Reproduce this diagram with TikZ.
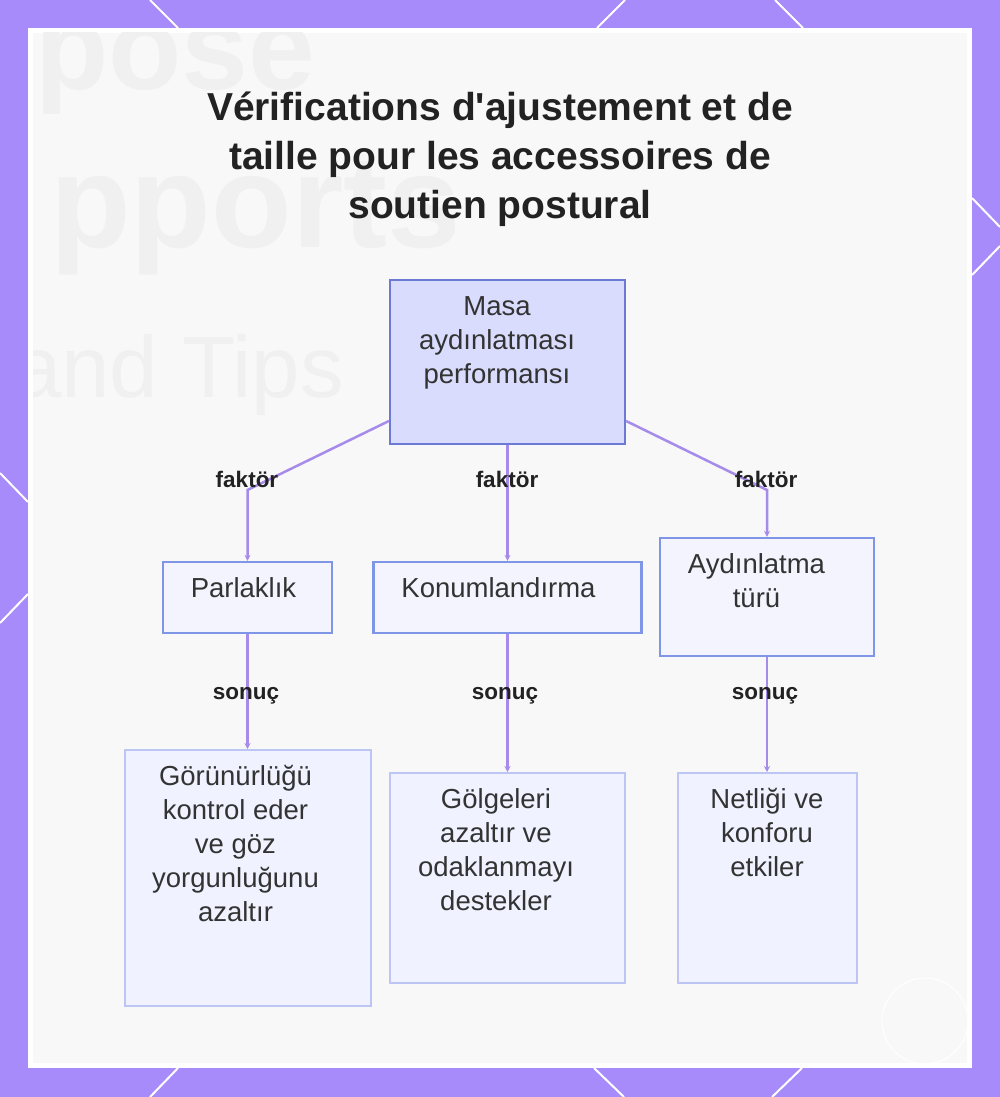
\documentclass[tikz,border=0pt]{standalone}
\usepackage{fontspec}
\setmainfont{Liberation Sans}
\newfontfamily\plainfont{Liberation Sans}
\usetikzlibrary{arrows.meta}
\definecolor{framepurple}{HTML}{A78BFA}
\definecolor{panelgray}{HTML}{F8F8F8}
\definecolor{ghostgray}{HTML}{F0F0F0}
\definecolor{rootfill}{HTML}{D9DCFC}
\definecolor{rootline}{HTML}{6B7AD4}
\definecolor{midfill}{HTML}{F3F4FE}
\definecolor{midline}{HTML}{7F95E6}
\definecolor{leaffill}{HTML}{F0F3FF}
\definecolor{leafline}{HTML}{BDC5F5}
\definecolor{connline}{HTML}{A68BEB}
\definecolor{txt}{HTML}{333333}
\definecolor{titletxt}{HTML}{222222}
% \boxtext{width}{height}{left shift of centre}{lines}
\newcommand{\boxtext}[4]{\parbox[c][#2pt][t]{#1pt}{\fontsize{27.5}{34}\selectfont\centering\advance\rightskip by #3pt\relax\rule{0pt}{35.5pt}#4}}
\tikzset{
  rootbox/.style={draw=rootline, fill=rootfill, line width=2.2pt, inner sep=0pt, text=txt},
  midbox/.style={draw=midline, fill=midfill, line width=2.2pt, inner sep=0pt, text=txt},
  leafbox/.style={draw=leafline, fill=leaffill, line width=2pt, inner sep=0pt, text=txt},
  conn/.style={draw=connline, line width=2.5pt, -{Stealth[length=6pt,width=6pt]}},
  lab/.style={font=\fontsize{22.5}{24}\selectfont\bfseries, text=titletxt, inner sep=0pt, anchor=base},
  ghost/.style={text=ghostgray, inner sep=0pt, anchor=base west},
  deco/.style={draw=white, line width=2pt}
}
\begin{document}
\begin{tikzpicture}[x=1pt,y=-1pt]
\useasboundingbox (0,0) rectangle (1000,1097);
\fill[framepurple] (0,0) rectangle (1000,1097);
% border decorations
\draw[deco] (150,0) -- (178,28);
\draw[deco] (625,0) -- (597,28);
\draw[deco] (775,0) -- (803,28);
\draw[deco] (178,1068) -- (150,1097);
\draw[deco] (594,1068) -- (624,1097);
\draw[deco] (802,1068) -- (772,1097);
\draw[deco] (0,473) -- (28,502);
\draw[deco] (0,623) -- (28,594);
\draw[deco] (972,198) -- (1000,227);
\draw[deco] (1000,246) -- (972,275);
% panel
\fill[white] (28,28) rectangle (972,1068);
\fill[panelgray] (33,33) rectangle (967,1063);
\begin{scope}
\clip (33,33) rectangle (967,1063);
\node[ghost, font=\fontsize{120}{120}\selectfont\bfseries] (g1) at (35,90) {pose};
\node[ghost, font=\fontsize{132}{132}\selectfont\bfseries] (g2) at (50,247) {pports};
\node[ghost, font=\fontsize{87}{87}\selectfont] (g3) at (13,397) {and Tips};
\end{scope}
\draw[white, line width=1pt] (925,1021) circle[radius=43];
% title
\node[font=\plainfont\fontsize{39}{49}\selectfont\bfseries, text=titletxt, align=center, anchor=base, inner sep=0pt] (title) at (500,218)
  {Vérifications d'ajustement et de\\taille pour les accessoires de\\soutien postural};
% nodes
\node[rootbox] (root) at (507.5,362) {\boxtext{235}{164}{21}{Masa\\aydınlatması\\performansı}};
\node[midbox] (n1) at (247.5,597.5) {\boxtext{169}{71}{8}{Parlaklık}};
\node[midbox] (n2) at (507.5,597.5) {\boxtext{268}{71}{18}{Konumlandırma}};
\node[midbox] (n3) at (767,597) {\boxtext{214}{118}{21}{Aydınlatma\\türü}};
\node[leafbox] (m1) at (247.5,878) {\boxtext{246}{256}{24}{Görünürlüğü\\kontrol eder\\ve göz\\yorgunluğunu\\azaltır}};
\node[leafbox] (m2) at (507.5,878) {\boxtext{235}{210}{23}{Gölgeleri\\azaltır ve\\odaklanmayı\\destekler}};
\node[leafbox] (m3) at (767,878) {\boxtext{179}{210}{0}{Netliği ve\\konforu\\etkiler}};
% connectors
\coordinate (b1) at (247.5,490);
\coordinate (b3) at (767,490);
\draw[conn] ([yshift=-59pt]root.west) -- (b1) -- (n1.north);
\draw[conn] (root.south) -- (n2.north);
\draw[conn] ([yshift=-59pt]root.east) -- (b3) -- (n3.north);
\draw[conn] (n1.south) -- (m1.north);
\draw[conn] (n2.south) -- (m2.north);
\draw[conn] (n3.south) -- (m3.north);
% labels
\node[lab] (l1) at (247,487) {faktör};
\node[lab] (l2) at (507,487) {faktör};
\node[lab] (l3) at (766,487) {faktör};
\node[lab] (l4) at (246,699) {sonuç};
\node[lab] (l5) at (505,699) {sonuç};
\node[lab] (l6) at (765,699) {sonuç};
\end{tikzpicture}
\end{document}
